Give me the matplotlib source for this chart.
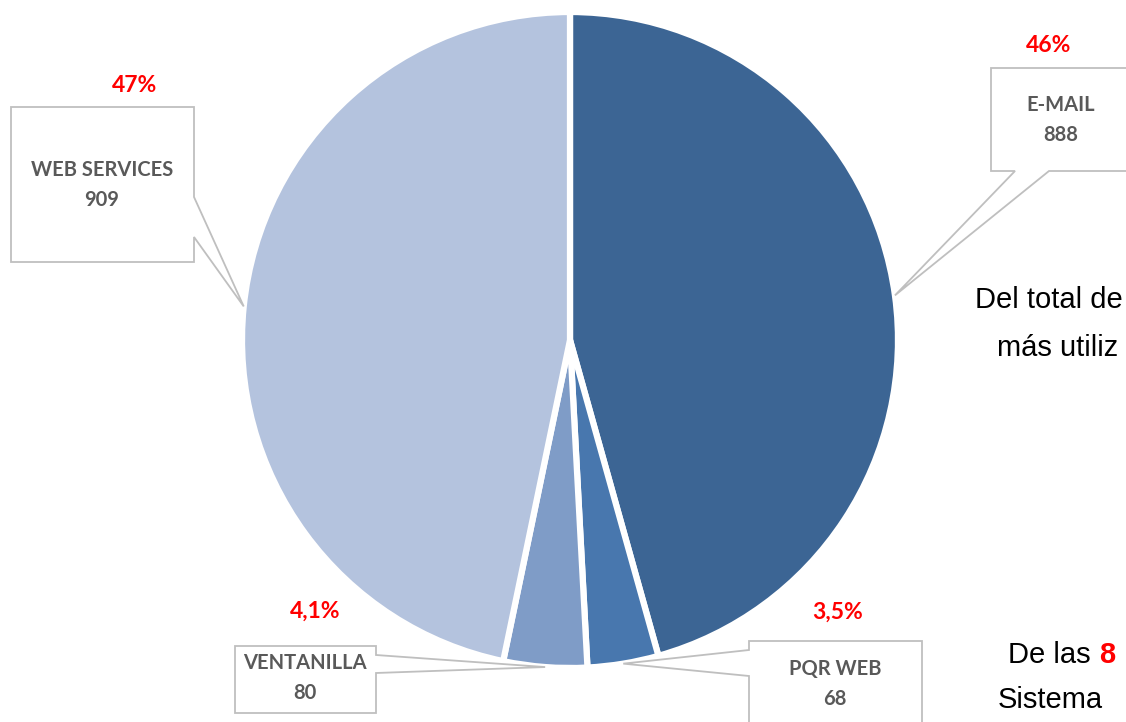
import numpy as np
import matplotlib
matplotlib.use('Agg')
import matplotlib.pyplot as plt
from matplotlib.patches import Polygon

# datos del grafico
canales = ['E-MAIL', 'PQR WEB', 'VENTANILLA', 'WEB SERVICES']
cantidades = [888, 68, 80, 909]
porcentajes = ['46%', '3,5%', '4,1%', '47%']
colores = ['#3C6594', '#4877AE', '#7F9CC7', '#B4C3DE']

W, H = 1126, 722
fig = plt.figure(figsize=(W / 100, H / 100), dpi=100)
ax = fig.add_axes([0, 0, 1, 1])

def Y(y):
    # pixel (desde arriba) -> coordenada de datos
    return H - y

cx, cy, r = 570, Y(340), 328
wedges, _ = ax.pie(cantidades, colors=colores, startangle=90, counterclock=False,
                   center=(cx, cy), radius=r,
                   wedgeprops=dict(edgecolor='white', linewidth=4.5))
ax.set_xlim(0, W)
ax.set_ylim(0, H)
ax.set_aspect('equal')
ax.axis('off')

# punto de anclaje de cada callout: mitad del arco de cada porcion
anclas = []
for w in wedges:
    t = np.deg2rad((w.theta1 + w.theta2) / 2)
    anclas.append((cx + r * np.cos(t), cy + r * np.sin(t)))

def callout(x0, y0, x1, y1, lado, a, b, tip):
    if lado == 'right':
        pts = [(x0, y0), (x1, y0), (x1, a), tip, (x1, b), (x1, y1), (x0, y1)]
    elif lado == 'left':
        pts = [(x0, y0), (x1, y0), (x1, y1), (x0, y1), (x0, b), tip, (x0, a)]
    else:  # bottom
        pts = [(x0, y0), (x1, y0), (x1, y1), (b, y1), tip, (a, y1), (x0, y1)]
    pts = [(p[0], Y(p[1])) if p is not tip else p for p in pts]
    ax.add_patch(Polygon(pts, closed=True, facecolor='white', edgecolor='#BFBFBF',
                         linewidth=1.3, zorder=3))

# cajas: x0, y0, x1, y1 (pixeles), lado del puntero, rango del puntero
cajas = [
    (991, 68, 1145, 171, 'bottom', 1015, 1049),
    (749, 641, 922, 745, 'left', 650, 676),
    (235, 646, 376, 713, 'right', 655, 673),
    (11, 107, 194, 262, 'right', 197, 237),
]
pos_texto = [(1061, 120), (835, 684), (305, 678), (102, 185)]
pos_pct = [(1049, 45), (838, 612), (315, 611), (135, 85)]

for i in range(len(canales)):
    x0, y0, x1, y1, lado, a, b = cajas[i]
    callout(x0, y0, x1, y1, lado, a, b, anclas[i])
    tx, ty = pos_texto[i]
    ax.text(tx, Y(ty), f"{canales[i]}\n{cantidades[i]}", ha='center', va='center',
            fontsize=14.5, fontweight='bold', color='#595959', family='Lato',
            linespacing=1.65, zorder=4)
    px, py = pos_pct[i]
    ax.text(px, Y(py), porcentajes[i], ha='center', va='center', fontsize=16.5,
            fontweight='bold', color='#FF0000', family='Lato', zorder=4)

# texto del lado derecho
fuente = ['Liberation Sans', 'DejaVu Sans']
fs = 21
ax.text(975, Y(308), 'Del total de', ha='left', va='baseline', fontsize=fs,
        family=fuente, color='black')
ax.text(997, Y(356), 'más utiliz', ha='left', va='baseline', fontsize=fs,
        family=fuente, color='black')
t1 = ax.text(1008, Y(663), 'De las ', ha='left', va='baseline', fontsize=fs,
             family=fuente, color='black')
ax.annotate('8', xycoords=t1, xy=(1, 0), va='bottom', ha='left', fontsize=fs,
            family=fuente, color='#FF0000', fontweight='bold')
ax.text(998, Y(708), 'Sistema', ha='left', va='baseline', fontsize=fs,
        family=fuente, color='black')

plt.savefig('out.png', dpi=100)
